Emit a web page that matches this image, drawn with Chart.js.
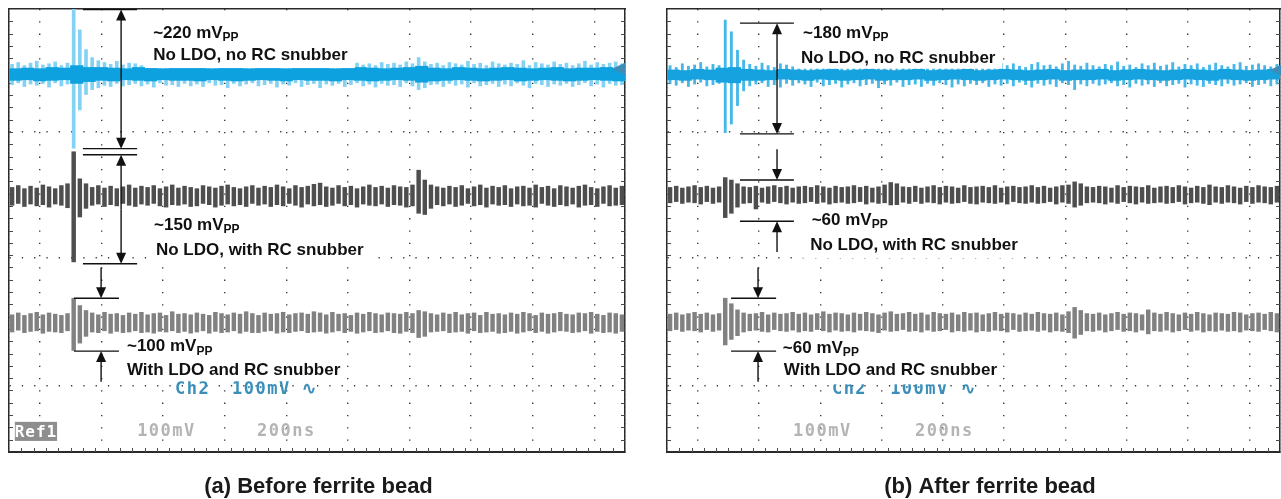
<!DOCTYPE html>
<html>
<head>
<meta charset="utf-8">
<script src="https://cdn.jsdelivr.net/npm/chart.js@4.4.1/dist/chart.umd.min.js"></script>
<style>
  html, body { margin: 0; padding: 0; background: #fff; overflow: hidden; }
  #wrap { position: relative; width: 1281px; height: 499px; }
  canvas { position: absolute; top: 0; }
  #before { left: 0; }
  #after { left: 640px; }
</style>
</head>
<body>
<div id="wrap">
  <canvas id="before" width="640" height="499"></canvas>
  <canvas id="after" width="641" height="499"></canvas>
</div>
<script>
// scope set-up: 200 ns/div over 10 div, 100 mV/div
// each trace is kept as an envelope (mV above / below its own level) per time bin
// fine bins = 20 ns, coarse (core) bins = 40 ns

// levels of the three captures on screen, mV from the bottom edge
const beforeLevels = [614, 416, 210];
const afterLevels = [613, 418, 211];
const gridRowsMv = [107, 315, 520];

// ---------- (a) before ferrite bead ----------
// no LDO, no RC snubber (blue)
const bNoSnubHi = [16, 19, 14, 18, 21, 15, 17, 20, 14, 18,
  110, 72, 40, 27, 22, 19, 16, 21, 15, 18,
  17, 14, 20, 16, 19, 15, 18, 22, 14, 17,
  19, 16, 13, 18, 20, 15, 17, 14, 19, 16,
  18, 15, 21, 14, 17, 19, 16, 13, 18, 20,
  15, 17, 19, 14, 16, 21, 18, 15, 17, 14,
  19, 16, 18, 15, 20, 17, 27, 20, 16, 18,
  14, 19, 17, 15, 21, 16, 18, 14, 20, 17,
  15, 18, 16, 22, 14, 19, 17, 15, 20, 16,
  18, 14, 17, 21, 15, 19, 16, 18, 20, 17];
const bNoSnubLo = [-17, -14, -20, -16, -18, -15, -21, -14, -19, -16,
  -120, -58, -33, -25, -22, -18, -20, -15, -19, -17,
  -15, -19, -16, -21, -14, -18, -17, -20, -15, -19,
  -16, -20, -14, -18, -17, -22, -15, -19, -16, -14,
  -19, -17, -15, -21, -16, -18, -14, -20, -17, -15,
  -22, -16, -18, -15, -20, -17, -14, -19, -16, -21,
  -15, -18, -17, -20, -14, -19, -25, -22, -17, -16,
  -20, -15, -18, -16, -21, -14, -19, -17, -15, -20,
  -16, -19, -14, -18, -22, -15, -17, -20, -16, -18,
  -15, -20, -17, -14, -19, -16, -21, -15, -18, -17];
const bNoSnubCoreHi = [9, 10, 9, 11, 10, 14, 11, 11, 10, 9,
  11, 10, 9, 10, 11, 10, 9, 11, 10, 9,
  10, 11, 9, 10, 10, 11, 9, 10, 11, 10,
  9, 10, 11, 13, 10, 9, 11, 10, 9, 10,
  11, 10, 9, 10, 11, 9, 10, 10, 11, 9];
const bNoSnubCoreLo = [-10, -9, -11, -10, -9, -15, -12, -10, -11, -9,
  -10, -11, -9, -10, -10, -11, -9, -10, -11, -10,
  -9, -10, -11, -9, -10, -10, -11, -9, -10, -11,
  -10, -9, -10, -13, -11, -10, -9, -10, -11, -10,
  -9, -11, -10, -9, -10, -11, -10, -9, -10, -11];
// no LDO, with RC snubber (dark grey)
const bSnubHi = [14, 17, 12, 16, 13, 18, 15, 12, 17, 20,
  72, 28, 20, 14, 17, 13, 16, 12, 15, 18,
  13, 16, 14, 17, 12, 15, 18, 13, 16, 14,
  12, 17, 15, 13, 16, 18, 14, 12, 15, 17,
  13, 16, 14, 18, 15, 12, 17, 14, 16, 19,
  21, 15, 13, 17, 14, 16, 12, 15, 18, 14,
  16, 13, 17, 15, 14, 18, 42, 26, 18, 15,
  13, 16, 14, 17, 12, 15, 18, 13, 16, 14,
  17, 12, 15, 16, 13, 18, 14, 16, 12, 17,
  15, 13, 16, 18, 14, 12, 15, 17, 13, 16];
const bSnubLo = [-15, -12, -17, -13, -16, -14, -18, -13, -15, -19,
  -107, -34, -20, -15, -13, -17, -14, -16, -12, -15,
  -17, -13, -15, -12, -16, -18, -14, -15, -13, -17,
  -16, -12, -14, -18, -15, -13, -16, -14, -17, -12,
  -15, -13, -17, -14, -16, -12, -15, -18, -13, -16,
  -14, -17, -15, -12, -16, -14, -18, -13, -15, -16,
  -13, -17, -14, -15, -18, -16, -28, -30, -20, -14,
  -16, -13, -17, -15, -12, -16, -14, -18, -13, -15,
  -14, -17, -13, -16, -15, -18, -12, -15, -17, -14,
  -16, -13, -18, -15, -14, -17, -12, -16, -15, -14];
// with LDO and RC snubber (light grey)
const bLdoHi = [13, 16, 12, 15, 17, 13, 16, 14, 12, 15,
  40, 28, 20, 16, 13, 17, 14, 15, 12, 16,
  14, 17, 13, 15, 16, 12, 18, 14, 15, 13,
  16, 14, 12, 17, 15, 13, 16, 14, 18, 15,
  12, 16, 14, 15, 17, 13, 15, 16, 14, 18,
  16, 13, 17, 14, 15, 12, 16, 14, 17, 15,
  13, 16, 15, 14, 17, 15, 20, 18, 15, 13,
  16, 14, 17, 13, 15, 16, 12, 17, 14, 15,
  13, 16, 14, 17, 15, 12, 16, 14, 15, 17,
  14, 13, 16, 15, 17, 14, 12, 16, 15, 13];
const bLdoLo = [-15, -12, -16, -14, -13, -17, -14, -15, -16, -13,
  -45, -33, -22, -15, -16, -13, -17, -14, -16, -15,
  -13, -16, -15, -17, -14, -15, -13, -16, -14, -17,
  -15, -13, -17, -14, -16, -15, -13, -17, -14, -16,
  -16, -14, -13, -17, -15, -16, -14, -13, -16, -15,
  -14, -17, -15, -13, -16, -14, -17, -15, -13, -16,
  -15, -13, -16, -17, -14, -16, -24, -22, -15, -14,
  -13, -16, -15, -14, -17, -13, -16, -15, -14, -17,
  -16, -14, -17, -15, -13, -16, -14, -17, -15, -13,
  -14, -16, -15, -13, -17, -14, -16, -15, -17, -14];

// ---------- (b) after ferrite bead ----------
const aNoSnubHi = [15, 12, 18, 14, 16, 20, 13, 17, 15, 89,
  70, 40, 24, 17, 14, 19, 15, 12, 18, 16,
  13, 17, 20, 14, 16, 12, 18, 15, 19, 13,
  16, 14, 21, 15, 12, 17, 19, 14, 16, 13,
  18, 15, 13, 20, 16, 14, 17, 12, 19, 15,
  14, 17, 16, 13, 19, 15, 18, 14, 12, 17,
  20, 15, 16, 13, 18, 22, 16, 14, 19, 15,
  13, 17, 15, 21, 14, 16, 12, 18, 15, 19,
  14, 16, 20, 13, 17, 15, 18, 12, 16, 19,
  15, 13, 17, 20, 14, 16, 18, 15, 13, 17];
const aNoSnubLo = [-14, -17, -13, -19, -15, -12, -18, -16, -14, -94,
  -80, -50, -26, -18, -15, -13, -19, -16, -20, -14,
  -17, -13, -15, -19, -12, -18, -16, -14, -20, -15,
  -13, -18, -16, -14, -21, -15, -17, -12, -19, -16,
  -15, -19, -14, -17, -13, -16, -20, -15, -18, -14,
  -16, -13, -19, -15, -17, -14, -18, -12, -16, -20,
  -14, -17, -15, -19, -13, -16, -24, -15, -18, -14,
  -17, -15, -13, -18, -16, -20, -14, -17, -15, -19,
  -13, -18, -16, -14, -20, -15, -17, -19, -14, -16,
  -18, -14, -17, -15, -13, -19, -16, -14, -18, -15];
const aNoSnubCoreHi = [8, 7, 9, 8, 11, 12, 9, 8, 7, 9,
  8, 7, 8, 9, 7, 8, 9, 8, 7, 8,
  9, 7, 8, 8, 9, 7, 8, 9, 8, 7,
  8, 9, 7, 8, 8, 9, 7, 8, 9, 8,
  7, 8, 9, 8, 7, 9, 8, 7, 8, 9];
const aNoSnubCoreLo = [-8, -9, -7, -8, -12, -13, -9, -9, -8, -7,
  -8, -9, -7, -8, -9, -8, -7, -9, -8, -8,
  -7, -9, -8, -7, -8, -9, -8, -7, -8, -9,
  -8, -7, -9, -8, -8, -7, -9, -8, -7, -8,
  -9, -8, -7, -8, -9, -7, -8, -9, -8, -7];
const aSnubHi = [12, 14, 11, 13, 15, 12, 14, 11, 13, 28,
  24, 18, 13, 12, 14, 11, 13, 15, 12, 14,
  11, 13, 14, 12, 15, 13, 11, 14, 12, 13,
  15, 12, 14, 11, 13, 16, 20, 18, 13, 12,
  14, 11, 13, 15, 12, 14, 13, 11, 15, 12,
  13, 14, 12, 15, 11, 13, 14, 12, 13, 15,
  12, 14, 11, 13, 15, 16, 21, 18, 13, 12,
  14, 13, 11, 15, 12, 14, 13, 12, 15, 11,
  13, 14, 12, 15, 13, 11, 14, 12, 16, 13,
  12, 15, 13, 11, 14, 12, 15, 13, 12, 14];
const aSnubLo = [-13, -11, -14, -12, -13, -15, -11, -14, -12, -37,
  -30, -20, -14, -13, -23, -12, -14, -11, -13, -15,
  -12, -14, -13, -11, -14, -12, -15, -13, -12, -14,
  -13, -11, -15, -12, -14, -13, -18, -16, -12, -14,
  -11, -14, -12, -13, -15, -12, -14, -13, -11, -14,
  -15, -12, -13, -14, -12, -15, -11, -13, -14, -12,
  -14, -13, -11, -15, -12, -14, -20, -17, -13, -12,
  -13, -15, -12, -14, -11, -13, -15, -12, -14, -13,
  -12, -14, -13, -11, -15, -13, -12, -14, -16, -12,
  -14, -12, -13, -15, -11, -14, -12, -13, -15, -12];
const aLdoHi = [13, 15, 12, 14, 16, 13, 15, 12, 14, 39,
  30, 20, 15, 13, 14, 16, 12, 15, 13, 14,
  16, 13, 15, 12, 14, 17, 13, 15, 14, 12,
  15, 13, 16, 14, 12, 15, 17, 13, 14, 16,
  13, 15, 12, 16, 14, 13, 15, 12, 16, 14,
  15, 12, 14, 16, 13, 15, 14, 12, 15, 13,
  16, 14, 13, 15, 12, 17, 24, 19, 14, 13,
  15, 12, 14, 16, 13, 15, 14, 12, 20, 15,
  13, 16, 14, 12, 15, 13, 16, 14, 12, 15,
  14, 13, 16, 15, 12, 14, 15, 13, 16, 14];
const aLdoLo = [-14, -12, -15, -13, -14, -16, -12, -15, -13, -37,
  -28, -22, -16, -14, -13, -15, -16, -12, -14, -15,
  -13, -16, -14, -15, -12, -14, -16, -13, -15, -14,
  -16, -13, -14, -15, -17, -13, -15, -14, -12, -15,
  -14, -16, -13, -15, -14, -12, -16, -14, -15, -13,
  -16, -14, -15, -13, -14, -16, -12, -15, -14, -13,
  -15, -13, -16, -14, -15, -17, -26, -20, -14, -15,
  -13, -16, -14, -12, -15, -14, -16, -13, -19, -14,
  -15, -13, -16, -14, -12, -15, -13, -16, -14, -15,
  -13, -15, -14, -16, -13, -14, -15, -12, -14, -16];

// envelope -> floating bars
function bars(hi, lo, level, binNs) {
  return hi.map((h, i) => ({ x: (i + 0.5) * binNs, y: [level + lo[i], level + h] }));
}

const LABEL_FONT = 'bold 17px "Liberation Sans", Arial, sans-serif';
const SUB_FONT = 'bold 12px "Liberation Sans", Arial, sans-serif';
const MONO = '"DejaVu Sans Mono", monospace';

function arrow(ctx, x, yFrom, yTo) {
  const d = Math.sign(yTo - yFrom);
  ctx.beginPath();
  ctx.moveTo(x, yFrom);
  ctx.lineTo(x, yTo - d * 8);
  ctx.stroke();
  ctx.beginPath();
  ctx.moveTo(x, yTo);
  ctx.lineTo(x - 5, yTo - d * 11);
  ctx.lineTo(x + 5, yTo - d * 11);
  ctx.closePath();
  ctx.fill();
}

const scopePlugin = {
  id: 'scope',
  beforeDatasetsDraw(chart) {
    // small graticule ticks on the frame edges
    const { ctx, chartArea: a, scales: { x, y } } = chart;
    ctx.save();
    ctx.strokeStyle = '#4a4a4a';
    ctx.lineWidth = 1;
    ctx.beginPath();
    for (let t = 40; t < 2000; t += 40) {
      const px = Math.round(x.getPixelForValue(t)) + 0.5;
      ctx.moveTo(px, a.bottom);
      ctx.lineTo(px, a.bottom - 4);
    }
    for (let v = 20; v < 720; v += 20) {
      const py = Math.round(y.getPixelForValue(v)) + 0.5;
      ctx.moveTo(a.left, py); ctx.lineTo(a.left + 4, py);
      ctx.moveTo(a.right, py); ctx.lineTo(a.right - 4, py);
    }
    ctx.stroke();
    ctx.restore();
  },
  afterDatasetsDraw(chart, args, opts) {
    const { ctx, scales: { x, y } } = chart;
    const X = v => x.getPixelForValue(v);
    const Y = v => y.getPixelForValue(v);
    ctx.save();
    ctx.textBaseline = 'middle';

    // scope readouts
    ctx.letterSpacing = '1.5px';
    opts.readouts.forEach(r => {
      ctx.font = 'bold ' + r.size + 'px ' + MONO;
      ctx.fillStyle = r.color;
      ctx.fillText(r.text, X(r.t), Y(r.mv));
    });
    if (opts.ref) {
      const r = opts.ref;
      ctx.fillStyle = '#8e8e8e';
      ctx.fillRect(X(r.t0), Y(r.mv1), X(r.t1) - X(r.t0), Y(r.mv0) - Y(r.mv1));
      ctx.fillStyle = '#fff';
      ctx.letterSpacing = '1px';
      ctx.font = 'bold 16px ' + MONO;
      ctx.textAlign = 'center';
      ctx.fillText(r.text, (X(r.t0) + X(r.t1)) / 2, (Y(r.mv0) + Y(r.mv1)) / 2 + 1);
      ctx.textAlign = 'left';
    }
    ctx.letterSpacing = '0px';

    // annotation labels on white boxes
    opts.labels.forEach(l => {
      ctx.fillStyle = '#fff';
      ctx.fillRect(X(l.box[0]), Y(l.box[3]), X(l.box[1]) - X(l.box[0]), Y(l.box[2]) - Y(l.box[3]));
      ctx.fillStyle = '#111';
      ctx.font = LABEL_FONT;
      ctx.fillText(l.value, X(l.t), Y(l.mv1));
      const w = ctx.measureText(l.value).width;
      ctx.font = SUB_FONT;
      ctx.fillText('PP', X(l.t) + w, Y(l.mv1) + 5);
      ctx.font = LABEL_FONT;
      ctx.fillText(l.text, X(l.t2), Y(l.mv2));
    });

    // peak-to-peak dimension lines
    ctx.strokeStyle = '#111';
    ctx.fillStyle = '#111';
    ctx.lineWidth = 1.4;
    opts.measures.forEach(m => {
      const xa = X(m.t);
      ctx.beginPath();
      [m.top, m.bottom].forEach(v => {
        ctx.moveTo(X(m.t0), Y(v));
        ctx.lineTo(X(m.t1), Y(v));
      });
      ctx.stroke();
      if (m.kind === 'outer') {
        const mid = (Y(m.top) + Y(m.bottom)) / 2;
        arrow(ctx, xa, mid, Y(m.top));
        arrow(ctx, xa, mid, Y(m.bottom));
      } else {
        arrow(ctx, xa, Y(m.top + m.len), Y(m.top));
        arrow(ctx, xa, Y(m.bottom - m.len), Y(m.bottom));
      }
    });

    // channel level marker
    const mk = opts.marker;
    const tx = X(mk.t), ty = Y(mk.mv);
    ctx.fillStyle = '#3f8cb4';
    ctx.beginPath();
    ctx.moveTo(tx, ty);
    ctx.lineTo(tx + 13, ty - 6);
    ctx.lineTo(tx + 13, ty + 6);
    ctx.closePath();
    ctx.fill();
    ctx.restore();
  },
  afterDraw(chart, args, opts) {
    const { ctx, chartArea: a } = chart;
    ctx.save();
    ctx.font = 'bold 22px "Liberation Sans", Arial, sans-serif';
    ctx.fillStyle = '#1a1a1a';
    ctx.textAlign = 'center';
    ctx.textBaseline = 'alphabetic';
    ctx.fillText(opts.caption, (a.left + a.right) / 2 + opts.captionShift, a.bottom + 41);
    ctx.restore();
  }
};

function scopeScales() {
  const hidden = { display: false, drawTicks: false };
  return {
    x: {
      type: 'linear', min: 0, max: 2000, offset: false,
      ticks: { display: false, stepSize: 200 },
      grid: { color: '#3a3a3a', lineWidth: 1.4, drawTicks: false },
      border: { color: '#2a2a2a', width: 2, dash: [1.3, 11], dashOffset: 0 }
    },
    xMid: {
      type: 'linear', position: 'bottom', min: 0, max: 2000,
      afterBuildTicks: s => { s.ticks = [{ value: 1000 }]; },
      ticks: { display: false },
      grid: { color: '#3a3a3a', lineWidth: 1.2, drawTicks: false },
      border: { display: false, dash: [1.2, 2.9] }
    },
    xTop: {
      type: 'linear', position: 'top', min: 0, max: 2000,
      ticks: { display: false }, grid: hidden,
      border: { color: '#2a2a2a', width: 1.5 }
    },
    y: {
      type: 'linear', min: 0, max: 720,
      afterBuildTicks: s => { s.ticks = gridRowsMv.map(v => ({ value: v })); },
      ticks: { display: false },
      grid: { color: '#3a3a3a', lineWidth: 1.4, drawTicks: false },
      border: { color: '#2a2a2a', width: 1.5, dash: [1.3, 11] }
    },
    yRight: {
      type: 'linear', position: 'right', min: 0, max: 720,
      ticks: { display: false }, grid: hidden,
      border: { color: '#2a2a2a', width: 1.5 }
    }
  };
}

function makeScope(id, datasets, scope, padding) {
  return new Chart(document.getElementById(id), {
    type: 'bar',
    data: { datasets },
    options: {
      responsive: false,
      animation: false,
      events: [],
      layout: { padding },
      datasets: { bar: { grouped: false, borderWidth: 0 } },
      plugins: { legend: { display: false }, tooltip: { enabled: false }, title: { display: false }, scope },
      scales: scopeScales()
    },
    plugins: [scopePlugin]
  });
}

// ---------- left scope ----------
makeScope('before', [
  { label: 'No LDO, no RC snubber', data: bars(bNoSnubCoreHi, bNoSnubCoreLo, beforeLevels[0], 40),
    backgroundColor: '#0ea1df', barThickness: 12.6, order: 1 },
  { label: 'No LDO, no RC snubber (peaks)', data: bars(bNoSnubHi, bNoSnubLo, beforeLevels[0], 20),
    backgroundColor: '#84d2f3', barThickness: 3, order: 2 },
  { label: 'No LDO, with RC snubber', data: bars(bSnubHi, bSnubLo, beforeLevels[1], 20),
    backgroundColor: '#4e4e4e', barThickness: 3.8, order: 3 },
  { label: 'With LDO and RC snubber', data: bars(bLdoHi, bLdoLo, beforeLevels[2], 20),
    backgroundColor: '#818181', barThickness: 3.8, order: 3 }
], {
  caption: '(a) Before ferrite bead', captionShift: 1.5,
  readouts: [
    { text: 'Ch2', t: 539, mv: 101, color: '#3a8fba', size: 17 },
    { text: '100mV \u223F', t: 724, mv: 101, color: '#3a8fba', size: 17 },
    { text: '100mV', t: 416, mv: 33, color: '#b4b4b4', size: 17 },
    { text: '200ns', t: 805, mv: 33, color: '#b4b4b4', size: 17 }
  ],
  ref: { text: 'Ref1', t0: 19, t1: 156, mv0: 18, mv1: 49 },
  labels: [
    { value: '~220 mV', text: 'No LDO, no RC snubber', t: 468, mv1: 681, t2: 468, mv2: 645, box: [442, 1123, 624, 712] },
    { value: '~150 mV', text: 'No LDO, with RC snubber', t: 471, mv1: 369, t2: 477, mv2: 328, box: [448, 1166, 309, 392] },
    { value: '~100 mV', text: 'With LDO and RC snubber', t: 383, mv1: 171, t2: 383, mv2: 132, box: [360, 1088, 115, 192] }
  ],
  measures: [
    { kind: 'outer', t: 364, t0: 240, t1: 416, top: 719, bottom: 493 },
    { kind: 'outer', t: 364, t0: 240, t1: 416, top: 483, bottom: 306 },
    { kind: 'inner', t: 299, t0: 211, t1: 357, top: 250, bottom: 164, len: 50 }
  ],
  marker: { t: 1958, mv: 623 }
}, { left: 9, top: 9, right: 15, bottom: 47 });

// ---------- right scope ----------
makeScope('after', [
  { label: 'No LDO, no RC snubber', data: bars(aNoSnubCoreHi, aNoSnubCoreLo, afterLevels[0], 40),
    backgroundColor: '#16a2de', barThickness: 12.5, order: 1 },
  { label: 'No LDO, no RC snubber (peaks)', data: bars(aNoSnubHi, aNoSnubLo, afterLevels[0], 20),
    backgroundColor: '#45b8e9', barThickness: 2.2, order: 2 },
  { label: 'No LDO, with RC snubber', data: bars(aSnubHi, aSnubLo, afterLevels[1], 20),
    backgroundColor: '#4e4e4e', barThickness: 3.8, order: 3 },
  { label: 'With LDO and RC snubber', data: bars(aLdoHi, aLdoLo, afterLevels[2], 20),
    backgroundColor: '#818181', barThickness: 3.8, order: 3 }
], {
  caption: '(b) After ferrite bead', captionShift: 16.5,
  readouts: [
    { text: 'Ch2', t: 538, mv: 101, color: '#3a8fba', size: 17 },
    { text: '100mV \u223F', t: 728, mv: 101, color: '#3a8fba', size: 17 },
    { text: '100mV', t: 411, mv: 33, color: '#b4b4b4', size: 17 },
    { text: '200ns', t: 809, mv: 33, color: '#b4b4b4', size: 17 }
  ],
  ref: null,
  labels: [
    { value: '~180 mV', text: 'No LDO, no RC snubber', t: 444, mv1: 681, t2: 437, mv2: 640, box: [418, 1093, 623, 712] },
    { value: '~60 mV', text: 'No LDO, with RC snubber', t: 472, mv1: 377, t2: 467, mv2: 336, box: [444, 1152, 315, 401] },
    { value: '~60 mV', text: 'With LDO and RC snubber', t: 378, mv1: 169, t2: 381, mv2: 133, box: [356, 1080, 110, 192] }
  ],
  measures: [
    { kind: 'outer', t: 359, t0: 238, t1: 414, top: 697, bottom: 517 },
    { kind: 'inner', t: 359, t0: 238, t1: 414, top: 442, bottom: 375, len: 50 },
    { kind: 'inner', t: 297, t0: 209, t1: 356, top: 250, bottom: 164, len: 50 }
  ],
  marker: { t: 1967, mv: 621 }
}, { left: 27, top: 9, right: 1, bottom: 47 });
</script>
</body>
</html>
